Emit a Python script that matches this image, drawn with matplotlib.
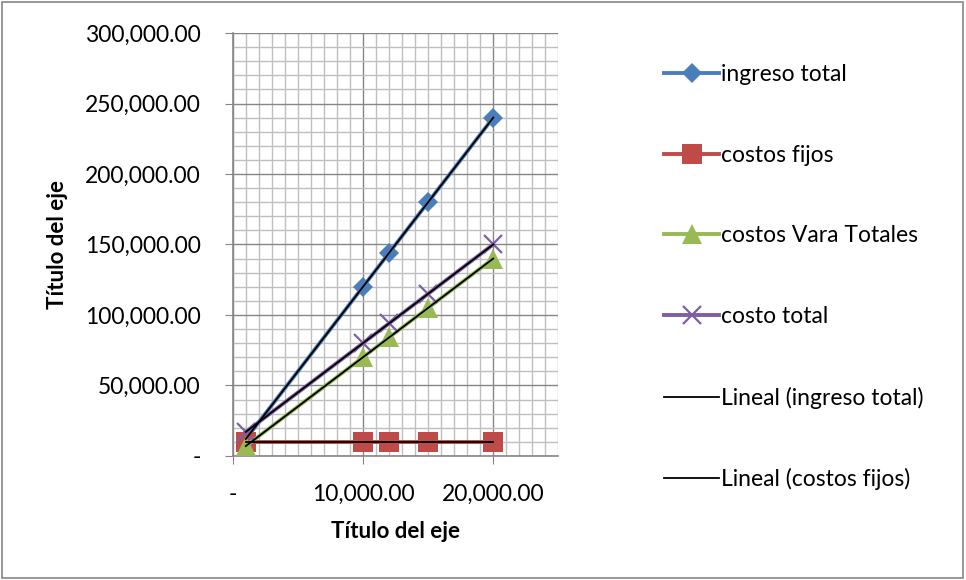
import numpy as np
import matplotlib
matplotlib.use("Agg")
import matplotlib.pyplot as plt
from matplotlib.ticker import FuncFormatter, MultipleLocator
from matplotlib.patches import Rectangle

plt.rcParams['font.family'] = ['Lato', 'DejaVu Sans']

# data
unidades = [1000, 10000, 12000, 15000, 20000]
ingreso_total = [12000, 120000, 144000, 180000, 240000]
costos_fijos = [10000, 10000, 10000, 10000, 10000]
costos_var = [7000, 70000, 84000, 105000, 140000]
costo_total = [17000, 80000, 94000, 115000, 150000]

nombres = ["ingreso total", "costos fijos", "costos Vara Totales", "costo total"]
colores = ["#4A7EBB", "#BE4B48", "#98B954", "#7D60A0"]
marcadores = ["D", "s", "^", "x"]
tamanos = [10, 14, 14, 13]

fig = plt.figure(figsize=(9.66, 5.8), dpi=100)
ax = fig.add_axes([0.241, 0.214, 0.337, 0.729])

x = np.array(unidades)
series = [ingreso_total, costos_fijos, costos_var, costo_total]
for ys, nom, col, mk, ms in zip(series, nombres, colores, marcadores, tamanos):
    ax.plot(x, ys, color=col, lw=2.8, marker=mk, ms=ms, mew=1.6 if mk == "x" else 0,
            mec=col, mfc=col, label=nom, zorder=3, clip_on=False)

# linear trendlines
etiquetas_lineal = ["Lineal (ingreso total)", "Lineal (costos fijos)", "_nolegend_", "_nolegend_"]
for ys, lab in zip(series, etiquetas_lineal):
    m, b = np.polyfit(x, ys, 1)
    ax.plot([x.min(), x.max()], [m * x.min() + b, m * x.max() + b], color="black",
            lw=1.3, label=lab, zorder=4)

ax.set_xlim(0, 25000)
ax.set_ylim(0, 300000)
ax.xaxis.set_major_locator(MultipleLocator(10000))
ax.xaxis.set_minor_locator(MultipleLocator(1000))
ax.yaxis.set_major_locator(MultipleLocator(50000))
ax.yaxis.set_minor_locator(MultipleLocator(10000))

fmt = FuncFormatter(lambda v, p: "-" if v == 0 else f"{v:,.2f}")
ax.xaxis.set_major_formatter(fmt)
ax.yaxis.set_major_formatter(fmt)

ax.grid(which="major", color="#868686", lw=1.0, zorder=0)
ax.grid(which="minor", color="#BFBFBF", lw=1.0, zorder=0)
ax.set_axisbelow(True)

for s in ["top", "right"]:
    ax.spines[s].set_visible(False)
for s in ["left", "bottom"]:
    ax.spines[s].set_color("#868686")
    ax.spines[s].set_linewidth(1.2)

ax.tick_params(which="major", length=6, color="#868686", labelsize=16.5)
ax.tick_params(which="minor", length=0)
ax.tick_params(axis="y", pad=17)
ax.tick_params(axis="x", pad=14)

ax.set_xlabel("Título del eje", fontsize=16, fontweight="bold", labelpad=12)
ax.set_ylabel("Título del eje", fontsize=16, fontweight="bold", labelpad=12)

fig.legend(*ax.get_legend_handles_labels(), loc="upper left",
           bbox_to_anchor=(0.678, 0.905), frameon=False, fontsize=16.5,
           handlelength=2.4, handletextpad=0.1, labelspacing=2.6,
           borderaxespad=0)

fig.patches.append(Rectangle((0.002, 0.003), 0.995, 0.993, transform=fig.transFigure,
                             fill=False, edgecolor="#868686", lw=1.2))

fig.savefig("out.png", dpi=100)
